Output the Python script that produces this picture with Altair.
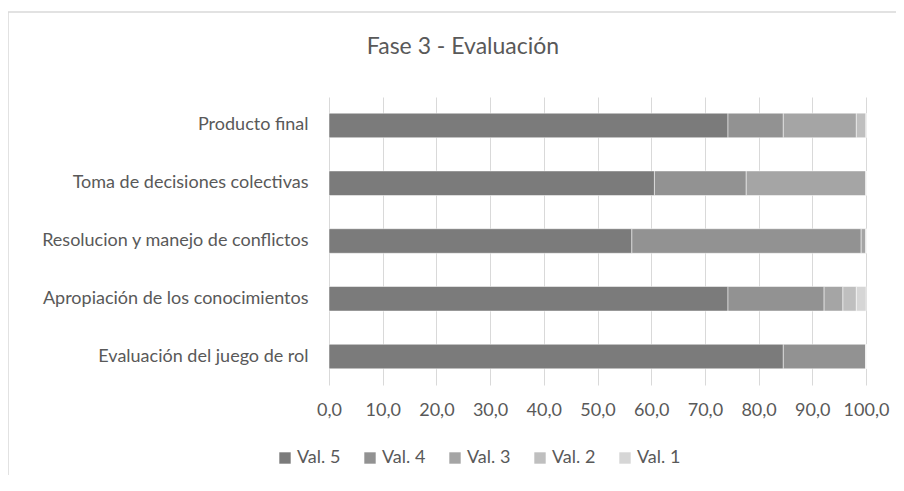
import altair as alt
import pandas as pd

title_text = "Fase 3 - Evaluación"
categories = [
    "Producto final",
    "Toma de decisiones colectivas",
    "Resolucion y manejo de conflictos",
    "Apropiación de los conocimientos",
    "Evaluación del juego de rol",
]
series = ["Val. 5", "Val. 4", "Val. 3", "Val. 2", "Val. 1"]
val5 = [74.3, 60.6, 56.4, 74.3, 84.6]
val4 = [10.3, 17.1, 42.7, 17.9, 15.4]
val3 = [13.6, 22.3, 0.9, 3.5, 0.0]
val2 = [1.8, 0.0, 0.0, 2.5, 0.0]
val1 = [0.0, 0.0, 0.0, 1.8, 0.0]
x_ticks = [0, 10, 20, 30, 40, 50, 60, 70, 80, 90, 100]
colors = ["#7b7b7b", "#929292", "#a5a5a5", "#bfbfbf", "#d6d6d6"]

rows = []
for s_i, (name, vals) in enumerate(zip(series, [val5, val4, val3, val2, val1])):
    for c, v in zip(categories, vals):
        rows.append({"cat": c, "serie": name, "valor": v, "orden": s_i})
df = pd.DataFrame(rows)

FONT = "Lato"
TXT = "#595959"
FS = 18

bars = (
    alt.Chart(df)
    .mark_bar(stroke="#ffffff", strokeWidth=0.5)
    .encode(
        y=alt.Y(
            "cat:N",
            sort=categories,
            title=None,
            scale=alt.Scale(paddingInner=0.575, paddingOuter=0.28),
            axis=alt.Axis(
                domain=False,
                ticks=False,
                labelPadding=21,
                labelFontSize=FS,
                labelColor=TXT,
                labelFont=FONT,
                labelLimit=400,
                grid=False,
            ),
        ),
        x=alt.X(
            "valor:Q",
            stack="zero",
            title=None,
            scale=alt.Scale(domain=[0, 100]),
            axis=alt.Axis(
                values=x_ticks,
                labelExpr="replace(format(datum.value, '.1f'), '.', ',')",
                labelFlush=False,
                labelOverlap=False,
                domain=False,
                ticks=False,
                grid=True,
                gridColor="#d9d9d9",
                gridWidth=1,
                labelPadding=16,
                labelFontSize=FS,
                labelColor=TXT,
                labelFont=FONT,
            ),
        ),
        color=alt.Color(
            "serie:N",
            sort=series,
            scale=alt.Scale(domain=series, range=colors),
            legend=alt.Legend(
                title=None,
                orient="none",
                direction="horizontal",
                legendX=-53,
                legendY=352,
                symbolType="square",
                symbolSize=130,
                symbolStrokeWidth=0,
                labelFontSize=FS,
                labelColor=TXT,
                labelFont=FONT,
                columnPadding=20,
                labelOffset=3,
                gridAlign="all",
            ),
        ),
        order=alt.Order("orden:Q", sort="ascending"),
    )
)

# light frame around the chart area (decoration, like the spreadsheet chart border)
frame = (
    alt.Chart(pd.DataFrame({"f": [0]}))
    .mark_rect(filled=False, stroke="#d9d9d9", strokeWidth=1.5)
    .encode(
        x=alt.value(-321),
        x2=alt.value(700),
        y=alt.value(-85),
        y2=alt.value(600),
    )
)

title = (
    alt.Chart(pd.DataFrame({"t": [title_text]}))
    .mark_text(font=FONT, fontSize=23, color=TXT, align="center", baseline="middle")
    .encode(text="t:N", x=alt.value(134), y=alt.value(-50))
)

chart = (
    alt.layer(frame, bars, title)
    .properties(
        width=537,
        height=288,
        autosize=alt.AutoSizeParams(type="none"),
        padding={"left": 321, "top": 89, "right": 30, "bottom": 90},
    )
    .configure_view(stroke=None)
)

chart.save("out.html", embed_options={"renderer": "svg", "actions": False})
